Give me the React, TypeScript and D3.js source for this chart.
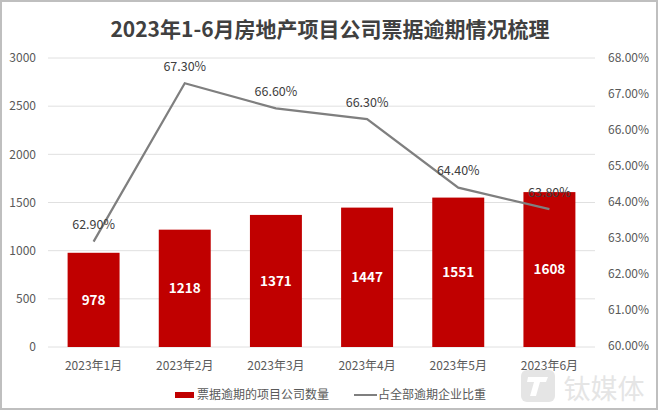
import React from "react";
import * as d3 from "d3";

const categories = ["2023年1月", "2023年2月", "2023年3月", "2023年4月", "2023年5月", "2023年6月"];
const counts = [978, 1218, 1371, 1447, 1551, 1608];
const ratios = [62.9, 67.3, 66.6, 66.3, 64.4, 63.8];
const leftTicks = [0, 500, 1000, 1500, 2000, 2500, 3000];
const rightTicks = [60, 61, 62, 63, 64, 65, 66, 67, 68];
const title = "2023年1-6月房地产项目公司票据逾期情况梳理";
const seriesNames = ["票据逾期的项目公司数量", "占全部逾期企业比重"];

const W = 660, H = 414;
const plot = { left: 48, right: 595, top: 58, bottom: 347 };
const FONT = "'Noto Sans CJK SC', 'Noto Sans', sans-serif";

export default function App() {
  const x = d3.scaleBand<string>().domain(categories).range([plot.left, plot.right]).paddingInner(0.43).paddingOuter(0.215);
  const yL = d3.scaleLinear().domain([0, 3000]).range([plot.bottom, plot.top]);
  const yR = d3.scaleLinear().domain([60, 68]).range([plot.bottom - 1, plot.top]);
  const cx = (c: string) => (x(c) as number) + x.bandwidth() / 2;
  const line = d3.line<number>().x((_, i) => cx(categories[i])).y((d) => yR(d));

  return (
    <svg width={W} height={H} style={{ position: "absolute", left: 0, top: 0, background: "#fff" }} fontFamily={FONT}>
      <rect x={0} y={0} width={W} height={H} fill="#fff" />
      <rect x={1} y={1} width={656} height={408} fill="none" stroke="#bfbfbf" strokeWidth={2} />
      <text x={330} y={37} textAnchor="middle" fontSize={21} fontWeight="bold" fill="#404040">{title}</text>
      {leftTicks.map((t) => (
        <g key={"l" + t}>
          <line x1={plot.left} x2={plot.right} y1={yL(t)} y2={yL(t)} stroke="#e0e0e0" strokeWidth={1} />
          <text x={36} y={yL(t)} dy="0.35em" textAnchor="end" fontSize={12} fill="#595959">{t}</text>
        </g>
      ))}
      {rightTicks.map((t) => (
        <text key={"r" + t} x={608} y={yR(t)} dy="0.35em" textAnchor="start" fontSize={12} fill="#595959">{t.toFixed(2) + "%"}</text>
      ))}
      {categories.map((c, i) => (
        <g key={c}>
          <rect x={x(c)} y={yL(counts[i])} width={x.bandwidth()} height={plot.bottom - yL(counts[i])} fill="#c00000" />
          <text x={cx(c)} y={(yL(counts[i]) + plot.bottom) / 2} dy="0.35em" textAnchor="middle" fontSize={13.5} fontWeight="bold" fill="#fff">{counts[i]}</text>
          <text x={cx(c)} y={366} dy="0.35em" textAnchor="middle" fontSize={12} fill="#595959">{c}</text>
        </g>
      ))}
      <path d={line(ratios) || ""} fill="none" stroke="#7f7f7f" strokeWidth={2.25} />
      {ratios.map((r, i) => (
        <text key={"p" + i} x={cx(categories[i])} y={yR(r) - 17} dy="0.35em" textAnchor="middle" fontSize={12.5} fill="#404040">{r.toFixed(2) + "%"}</text>
      ))}
      <rect x={175} y={392} width={19} height={6} fill="#c00000" />
      <text x={197} y={395} dy="0.35em" fontSize={12} fill="#595959">{seriesNames[0]}</text>
      <line x1={354} x2={377} y1={395} y2={395} stroke="#7f7f7f" strokeWidth={2} />
      <text x={378} y={395} dy="0.35em" fontSize={12} fill="#595959">{seriesNames[1]}</text>
      <g opacity={0.55}>
        <rect x={521} y={370} width={34} height={32} rx={6} fill="#d0d0d0" />
        <path d="M528,377 L548,377 L546,382 L540,382 L536,396 L530,396 L534,382 L527,382 Z" fill="#fff" />
        <text x={604} y={390} dy="0.35em" textAnchor="middle" fontSize={27} fill="#d0d0d0">钛媒体</text>
      </g>
    </svg>
  );
}
